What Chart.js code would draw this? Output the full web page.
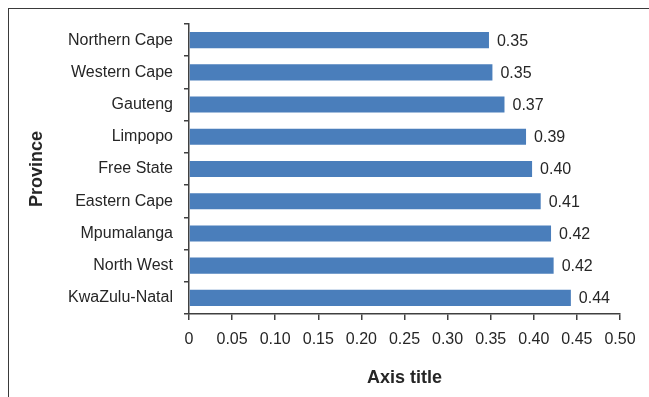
<!DOCTYPE html>
<html>
<head>
<meta charset="utf-8">
<script src="https://cdn.jsdelivr.net/npm/chart.js@4/dist/chart.umd.min.js"></script>
<style>
  html, body { margin: 0; padding: 0; background: #fff; overflow: hidden; }
  #wrap { position: relative; width: 649px; height: 397px; }
  #frame { position: absolute; left: 8px; top: 8px; width: 700px; height: 500px;
           border-top: 1.5px solid #3a3a3a; border-left: 1.5px solid #3a3a3a; box-sizing: border-box; }
  canvas { position: absolute; left: 0; top: 0; }
</style>
</head>
<body>
<div id="wrap">
  <div id="frame"></div>
  <canvas id="c" width="649" height="397"></canvas>
</div>
<script>
const provinces = ["Northern Cape", "Western Cape", "Gauteng", "Limpopo", "Free State",
                   "Eastern Cape", "Mpumalanga", "North West", "KwaZulu-Natal"];
const values = [0.348, 0.352, 0.366, 0.391, 0.398, 0.408, 0.420, 0.423, 0.443];
const xTicks = [0, 0.05, 0.10, 0.15, 0.20, 0.25, 0.30, 0.35, 0.40, 0.45, 0.50];
const xTitle = "Axis title";
const yTitle = "Province";

const textColor = '#262626';
const axisColor = '#404040';
const fontFam = '"Liberation Sans", Arial, sans-serif';

const barLabels = {
  id: 'barLabels',
  afterDatasetsDraw(chart) {
    const ctx = chart.ctx;
    const meta = chart.getDatasetMeta(0);
    ctx.save();
    ctx.font = '16px ' + fontFam;
    ctx.fillStyle = textColor;
    ctx.textAlign = 'left';
    ctx.textBaseline = 'middle';
    meta.data.forEach((el, i) => {
      ctx.fillText(values[i].toFixed(2), el.x + 8, el.y + 1);
    });
    ctx.restore();
  }
};

new Chart(document.getElementById('c'), {
  type: 'bar',
  data: {
    labels: provinces,
    datasets: [{
      data: values,
      backgroundColor: '#4a7ebb',
      borderWidth: 0,
      barPercentage: 0.5,
      categoryPercentage: 1.0
    }]
  },
  options: {
    indexAxis: 'y',
    responsive: false,
    animation: false,
    devicePixelRatio: 1,
    layout: { padding: { top: 24, right: 29, bottom: 0, left: 0 } },
    plugins: { legend: { display: false }, tooltip: { enabled: false } },
    scales: {
      x: {
        type: 'linear',
        min: 0, max: 0.5,
        afterBuildTicks(scale) { scale.ticks = xTicks.map(v => ({ value: v })); },
        afterFit(scale) { scale.height = 83; },
        grid: { display: true, drawOnChartArea: false, drawTicks: true, tickLength: 6,
                color: axisColor, lineWidth: 1.5 },
        border: { display: true, color: axisColor, width: 1.5 },
        ticks: {
          color: textColor, padding: 10,
          font: { family: fontFam, size: 16 },
          callback: (v) => v === 0 ? '0' : v.toFixed(2)
        },
        title: { display: true, text: xTitle, color: textColor, padding: { top: 4, bottom: 8 },
                 font: { family: fontFam, size: 18, weight: 'bold' } }
      },
      y: {
        afterFit(scale) { scale.width = 189; },
        grid: { display: true, offset: true, drawOnChartArea: false, drawTicks: true, tickLength: 5,
                color: axisColor, lineWidth: 1.5 },
        border: { display: true, color: axisColor, width: 1.5 },
        ticks: { color: textColor, padding: 11, font: { family: fontFam, size: 16 } },
        title: { display: true, text: yTitle, color: textColor, padding: { top: 26, bottom: 4 },
                 font: { family: fontFam, size: 18, weight: 'bold' } }
      }
    }
  },
  plugins: [barLabels]
});
</script>
</body>
</html>
